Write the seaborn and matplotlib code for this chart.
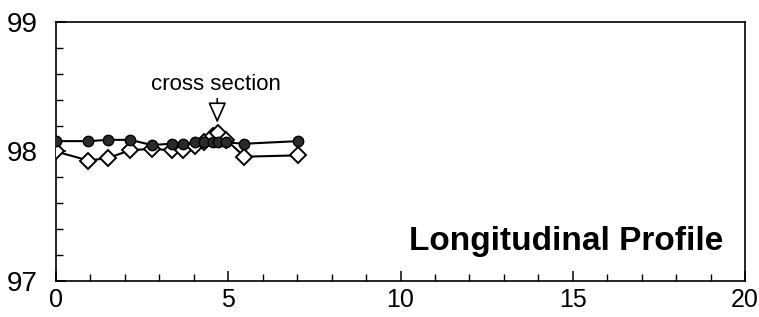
import matplotlib
matplotlib.use("Agg")
import matplotlib.pyplot as plt
import seaborn as sns
import pandas as pd
from matplotlib.ticker import MultipleLocator

# ---- data ----
distance = [0.0, 0.94, 1.52, 2.15, 2.78, 3.36, 3.70, 4.03, 4.30, 4.56, 4.69, 4.94, 5.47, 7.02]
circle_vals = [98.08, 98.08, 98.09, 98.09, 98.05, 98.06, 98.06, 98.07, 98.07, 98.07, 98.07, 98.07, 98.06, 98.08]
diamond_vals = [98.00, 97.93, 97.95, 98.01, 98.02, 98.01, 98.01, 98.04, 98.07, 98.12, 98.14, 98.09, 97.96, 97.97]
x_ticks = [0, 5, 10, 15, 20]
y_ticks = [97, 98, 99]
annot_text = "cross section"
annot_point = (4.68, 98.20)
annot_from = (4.68, 98.43)
annot_label_pos = (4.64, 98.475)
title_text = "Longitudinal Profile"
title_pos = (19.36, 97.239)

sns.set_theme(style="ticks")
plt.rcParams["font.family"] = ["Liberation Sans", "DejaVu Sans"]

df = pd.DataFrame({"distance": distance, "circle": circle_vals, "diamond": diamond_vals})

fig = plt.figure(figsize=(7.59, 3.17), dpi=100)
ax = fig.add_axes([0.0738, 0.1136, 0.9078, 0.817])

sns.lineplot(data=df, x="distance", y="diamond", ax=ax, sort=False, color="black",
             lw=1.5, marker="D", markersize=8.5, markerfacecolor="white",
             markeredgecolor="black", markeredgewidth=1.4, zorder=3)
sns.lineplot(data=df, x="distance", y="circle", ax=ax, sort=False, color="black",
             lw=1.5, marker="o", markersize=7.5, markerfacecolor="#2a2a2a",
             markeredgecolor="black", markeredgewidth=1.0, zorder=4)

ax.set_xlim(x_ticks[0], x_ticks[-1])
ax.set_ylim(y_ticks[0], y_ticks[-1])
ax.set_xticks(x_ticks)
ax.set_yticks(y_ticks)
ax.xaxis.set_minor_locator(MultipleLocator(1))
ax.yaxis.set_minor_locator(MultipleLocator(0.2))
ax.tick_params(which="major", direction="in", length=7, width=1.1,
               color="black", labelcolor="black")
ax.tick_params(axis="x", which="major", pad=5, labelsize=18)
ax.tick_params(axis="y", which="major", pad=13, labelsize=20)
ax.tick_params(which="minor", direction="in", length=5, width=1.0, color="black")
ax.set_xlabel("")
ax.set_ylabel("")
for s in ax.spines.values():
    s.set_visible(True)
    s.set_linewidth(1.2)
    s.set_color("black")

ax.annotate("", xy=annot_point, xytext=annot_from,
            arrowprops=dict(arrowstyle="-|>,head_length=0.9,head_width=0.4",
                            color="black", lw=1.2, mutation_scale=14, fc="white"),
            zorder=5)
ax.text(*annot_label_pos, annot_text, ha="center", va="baseline", fontsize=16, color="black")
ax.text(*title_pos, title_text, ha="right", va="baseline", fontsize=24,
        fontweight="bold", color="black")

fig.savefig("out.png", dpi=100)
